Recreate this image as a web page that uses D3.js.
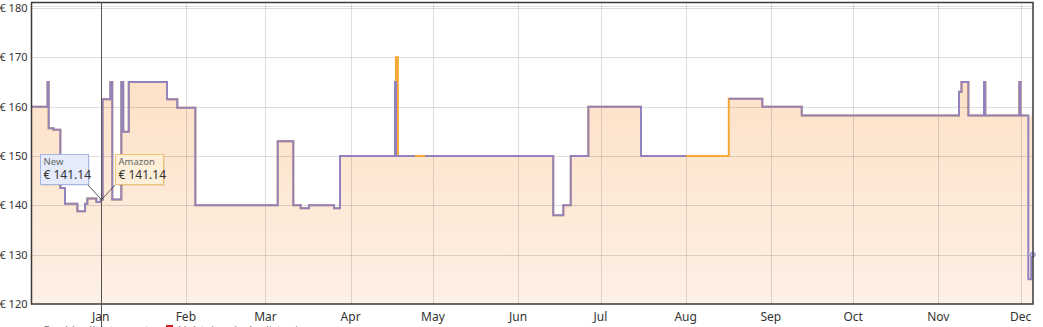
<!DOCTYPE html>
<html>
<head>
<meta charset="utf-8">
<script src="https://cdn.jsdelivr.net/npm/d3@7"></script>
<style>
  body { margin: 0; background: #fff; }
  svg { display: block; }
</style>
</head>
<body>
<svg id="chart"></svg>
<script>
var parseTime = d3.isoParse;

// price history, "New" offers
var newDates = ["2019-12-06T00:00","2019-12-12T15:00","2019-12-13T01:00","2019-12-14T19:00","2019-12-17T07:00",
  "2019-12-19T00:00","2019-12-23T12:00","2019-12-26T07:00","2019-12-27T03:00","2019-12-30T10:00",
  "2020-01-01T00:00","2020-01-01T17:00","2020-01-04T12:00","2020-01-05T05:00","2020-01-08T12:00",
  "2020-01-09T05:00","2020-01-11T05:00","2020-01-25T03:00","2020-01-28T21:00","2020-02-04T11:00",
  "2020-03-05T11:00","2020-03-11T03:00","2020-03-13T20:00","2020-03-16T20:00","2020-03-25T23:00",
  "2020-03-28T03:00","2020-04-17T04:00","2020-04-17T13:00","2020-04-24T11:00",
  "2020-04-24T11:00","2020-04-28T02:00","2020-06-13T19:00","2020-06-17T11:00","2020-06-20T04:00",
  "2020-06-26T14:00","2020-07-15T18:00","2020-08-01T03:00","2020-08-01T03:00","2020-08-16T17:00",
  "2020-08-28T22:00","2020-09-12T07:00","2020-11-08T13:00","2020-11-09T11:00","2020-11-11T23:00",
  "2020-11-17T16:00","2020-11-18T03:00","2020-11-30T12:00","2020-11-30T23:00","2020-12-03T19:00",
  "2020-12-04T21:00","2020-12-05T10:00"];
var newPrices = [160,165,155.6,155.3,143.5,
  140.3,138.8,140.3,141.4,140.7,
  141.14,161.5,165,141.2,165,
  154.9,165,161.5,159.8,140,
  153,140,139.4,140,139.4,
  150,165,150,150,
  null,150,138,140,150,
  160,150,150,null,161.6,
  160,158.2,163,165,158.2,
  165,158.2,165,158.2,125,
  130,130];

// price history, Amazon
var amazonDates = ["2019-12-06T00:00","2019-12-12T15:00","2019-12-13T01:00","2019-12-14T19:00","2019-12-17T07:00",
  "2019-12-19T00:00","2019-12-23T12:00","2019-12-26T07:00","2019-12-27T03:00","2019-12-30T10:00",
  "2020-01-01T00:00","2020-01-01T17:00","2020-01-04T12:00","2020-01-05T05:00","2020-01-08T12:00",
  "2020-01-09T05:00","2020-01-11T05:00","2020-01-25T03:00","2020-01-28T21:00","2020-02-04T11:00",
  "2020-03-05T11:00","2020-03-11T03:00","2020-03-13T20:00","2020-03-16T20:00","2020-03-25T23:00",
  "2020-03-28T03:00","2020-04-17T12:00","2020-04-18T05:00","2020-06-13T19:00","2020-06-17T11:00",
  "2020-06-20T04:00","2020-06-26T14:00","2020-07-15T18:00","2020-08-16T17:00","2020-08-28T22:00",
  "2020-09-12T07:00","2020-11-08T13:00","2020-11-09T11:00","2020-11-11T23:00","2020-11-17T16:00",
  "2020-11-18T03:00","2020-11-30T12:00","2020-11-30T23:00","2020-12-03T19:00"];
var amazonPrices = [160,165,155.6,155.3,143.5,
  140.3,138.8,140.3,141.4,140.7,
  141.14,161.5,165,141.2,165,
  154.9,165,161.5,159.8,140,
  153,140,139.4,140,139.4,
  150,170,150,138,140,
  150,160,150,161.6,160,
  158.2,163,165,158.2,165,
  158.2,165,158.2,158.2];

var yTicks = [120,130,140,150,160,170,180];
var hoverDate = "2020-01-01T00:00";
var hoverNew = 141.14;
var hoverAmazon = 141.14;

var W = 1043, H = 327;
var pLeft = 31.5, pRight = 1033, pTop = 2.5, pBottom = 304;

var svg = d3.select("#chart").attr("width", W).attr("height", H)
  .attr("font-family", "'Segoe UI', 'Noto Sans', sans-serif");

var x = d3.scaleTime()
  .domain([parseTime("2019-12-06T19:00"), parseTime("2020-12-05T12:00")])
  .range([pLeft, pRight]);
var y = d3.scaleLinear().domain([120, 180]).range([pBottom, 8]);

var newData = newDates.map(function (d, i) { return { date: parseTime(d), price: newPrices[i] }; });
var amazonData = amazonDates.map(function (d, i) { return { date: parseTime(d), price: amazonPrices[i] }; });
// area keeps going to the right edge
var areaData = amazonData.concat([{ date: x.domain()[1], price: amazonPrices[amazonPrices.length - 1] }]);

var defs = svg.append("defs");
var grad = defs.append("linearGradient").attr("id", "fillGrad")
  .attr("gradientUnits", "userSpaceOnUse")
  .attr("x1", 0).attr("y1", y(170)).attr("x2", 0).attr("y2", pBottom);
grad.append("stop").attr("offset", "0").attr("stop-color", "#fde0c4");
grad.append("stop").attr("offset", "1").attr("stop-color", "#fdf0e5");
defs.append("clipPath").attr("id", "plotClip").append("rect")
  .attr("x", pLeft).attr("y", pTop).attr("width", pRight - pLeft).attr("height", pBottom - pTop);

var plot = svg.append("g").attr("clip-path", "url(#plotClip)");

// amazon area
plot.append("path")
  .datum(areaData)
  .attr("fill", "url(#fillGrad)")
  .attr("d", d3.area()
    .curve(d3.curveStepAfter)
    .x(function (d) { return x(d.date); })
    .y0(pBottom)
    .y1(function (d) { return y(d.price); }));

// grid
var months = x.ticks(d3.timeMonth.every(1));
plot.selectAll("line.vgrid").data(months).enter().append("line")
  .attr("class", "vgrid")
  .attr("x1", function (d) { return Math.round(x(d)) + 0.5; })
  .attr("x2", function (d) { return Math.round(x(d)) + 0.5; })
  .attr("y1", pTop).attr("y2", pBottom)
  .attr("stroke", "rgba(0,0,0,0.13)");
plot.selectAll("line.hgrid").data(yTicks.concat([180.4])).enter().append("line")
  .attr("class", "hgrid")
  .attr("x1", pLeft).attr("x2", pRight)
  .attr("y1", function (d) { return Math.round(y(d)) + 0.5; })
  .attr("y2", function (d) { return Math.round(y(d)) + 0.5; })
  .attr("stroke", "rgba(0,0,0,0.13)");

// lines: amazon underneath, new on top
plot.append("path")
  .datum(amazonData)
  .attr("fill", "none")
  .attr("stroke", "#f5a836")
  .attr("stroke-width", 2)
  .attr("d", d3.line()
    .curve(d3.curveStepAfter)
    .x(function (d) { return x(d.date); })
    .y(function (d) { return y(d.price); }));

plot.append("path")
  .datum(newData)
  .attr("fill", "none")
  .attr("stroke", "#9283bf")
  .attr("stroke-width", 2)
  .attr("d", d3.line()
    .defined(function (d) { return d.price !== null; })
    .curve(d3.curveStepAfter)
    .x(function (d) { return x(d.date); })
    .y(function (d) { return y(d.price); }));

var last = newData[newData.length - 1];
svg.append("circle")
  .attr("cx", x(last.date)).attr("cy", y(last.price)).attr("r", 2.5)
  .attr("fill", "#c9c0ea").attr("stroke", "#8c7fd0").attr("stroke-width", 1);

// frame
svg.append("rect")
  .attr("x", pLeft).attr("y", pTop).attr("width", pRight - pLeft).attr("height", pBottom - pTop)
  .attr("fill", "none").attr("stroke", "#3a3a3a").attr("stroke-width", 1.5);

// y labels
svg.selectAll("text.ylab").data(yTicks).enter().append("text")
  .attr("class", "ylab")
  .attr("x", 27.5).attr("y", function (d) { return y(d) + 4; })
  .attr("text-anchor", "end").attr("font-size", "11px").attr("fill", "#333")
  .text(function (d) { return "€ " + d; });

// x labels
svg.selectAll("text.xlab").data(months).enter().append("text")
  .attr("class", "xlab")
  .attr("x", function (d) { return x(d); }).attr("y", 320.5)
  .attr("text-anchor", "middle").attr("font-size", "12px").attr("fill", "#333")
  .text(d3.timeFormat("%b"));

// legend row, cut off by the picture edge
svg.append("text").attr("x", 6).attr("y", 334)
  .attr("font-size", "11px").attr("fill", "#777")
  .text("zoom ·  Double-click to reset");
svg.append("rect").attr("x", 166).attr("y", 325).attr("width", 7).attr("height", 7)
  .attr("fill", "#c8231e");
svg.append("text").attr("x", 178).attr("y", 334)
  .attr("font-size", "11px").attr("fill", "#777")
  .text("Lightning deals · list price");

// hover crosshair
var hx = Math.round(x(parseTime(hoverDate))) + 0.5;
svg.append("line")
  .attr("x1", hx).attr("x2", hx).attr("y1", pTop).attr("y2", H)
  .attr("stroke", "#555").attr("stroke-width", 1);

// tooltips
var tips = [
  { label: "New", value: hoverNew, x: 40.5, fill: "#e5ebfa", stroke: "#a8b6e6", ax: 88, ay: 185 },
  { label: "Amazon", value: hoverAmazon, x: 115.5, fill: "#fdefd8", stroke: "#f2c273", ax: 115, ay: 185 }
];
tips.forEach(function (t) {
  svg.append("line")
    .attr("x1", t.ax).attr("y1", t.ay)
    .attr("x2", hx).attr("y2", y(t.value))
    .attr("stroke", "#333").attr("stroke-width", 0.8);
  svg.append("rect")
    .attr("x", t.x + 1.5).attr("y", 156).attr("width", 48).attr("height", 30)
    .attr("fill", "rgba(0,0,0,0.08)");
  svg.append("rect")
    .attr("x", t.x).attr("y", 154.5).attr("width", 48).attr("height", 30)
    .attr("fill", t.fill).attr("stroke", t.stroke).attr("stroke-width", 1);
  svg.append("text").attr("x", t.x + 3).attr("y", 165)
    .attr("font-size", "9.5px").attr("fill", "#666").text(t.label);
  svg.append("text").attr("x", t.x + 3).attr("y", 179)
    .attr("font-size", "12px").attr("fill", "#333").text("€ " + t.value.toFixed(2));
});
</script>
</body>
</html>
